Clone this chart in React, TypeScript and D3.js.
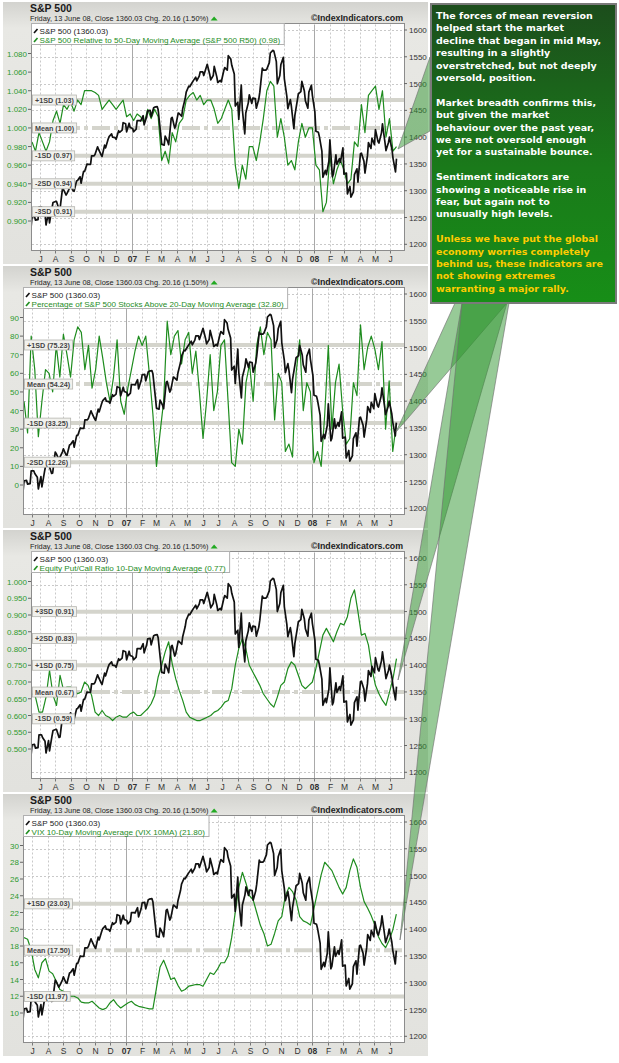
import React, { useEffect, useRef } from 'react';
import * as d3 from 'd3';

// ---------- DATA ----------
// weekly Fridays from 16 Jun 2006 to 13 Jun 2008; S&P also has the Wednesday before each Friday
const START = new Date(2006, 5, 16);
const WEEKS = d3.range(105).map((i) => d3.timeDay.offset(START, 7 * i));
const MIDWEEKS = WEEKS.map((d) => d3.timeDay.offset(d, -2));

const spxFriday = [
  1251, 1245, 1270, 1265, 1236, 1240, 1278, 1280, 1266, 1302,
  1295, 1311, 1299, 1319, 1314, 1336, 1349, 1365, 1368, 1377,
  1364, 1380, 1401, 1400, 1396, 1409, 1427, 1410, 1418, 1410,
  1431, 1430, 1423, 1449, 1438, 1456, 1451, 1387, 1402, 1386,
  1437, 1421, 1444, 1453, 1484, 1494, 1505, 1505, 1522, 1515,
  1536, 1507, 1532, 1502, 1503, 1530, 1552, 1534, 1458, 1433,
  1453, 1445, 1479, 1473, 1454, 1484, 1525, 1527, 1557, 1561,
  1500, 1535, 1509, 1453, 1458, 1440, 1481, 1504, 1468, 1484,
  1478, 1411, 1401, 1325, 1330, 1395, 1331, 1349, 1353, 1331,
  1294, 1288, 1330, 1316, 1370, 1333, 1390, 1398, 1414, 1389,
  1425, 1375, 1400, 1361, 1360,
];

const spxWednesday = [
  1230, 1252, 1246, 1270, 1258, 1259, 1268, 1280, 1265, 1305,
  1292, 1305, 1300, 1318, 1326, 1336, 1350, 1349, 1365, 1382,
  1367, 1385, 1396, 1406, 1399, 1412, 1413, 1425, 1426, 1416,
  1415, 1431, 1440, 1438, 1450, 1455, 1457, 1406, 1385, 1392,
  1435, 1417, 1445, 1439, 1472, 1495, 1502, 1512, 1514, 1522,
  1530, 1517, 1515, 1513, 1506, 1524, 1525, 1546, 1518, 1465,
  1497, 1406, 1464, 1463, 1472, 1471, 1529, 1525, 1539, 1562,
  1541, 1515, 1549, 1476, 1470, 1416, 1469, 1485, 1486, 1454,
  1497, 1447, 1409, 1374, 1338, 1355, 1326, 1367, 1360, 1380,
  1333, 1308, 1298, 1341, 1369, 1355, 1365, 1379, 1386, 1392,
  1408, 1390, 1390, 1377, 1335,
];

const r50 = [
  0.985, 0.975, 0.995, 0.985, 0.975, 0.985, 1.008, 1.018, 1.005, 1.025,
  1.02, 1.028, 1.018, 1.03, 1.025, 1.04, 1.04, 1.04, 1.038, 1.035,
  1.02, 1.025, 1.03, 1.025, 1.02, 1.025, 1.03, 1.012, 1.015, 1.008,
  1.015, 1.012, 1.005, 1.02, 1.01, 1.02, 1.012, 0.965, 0.975, 0.962,
  0.995, 0.985, 1.005, 1.01, 1.03, 1.035, 1.038, 1.03, 1.035, 1.025,
  1.03, 1.03, 1.02, 1.005, 1.01, 1.02, 1.03, 1.02, 0.96, 0.935,
  0.96, 0.945, 0.98, 0.98, 0.965, 0.985, 1.01, 1.04, 1.05, 1.045,
  0.99, 1.01, 0.99, 0.96, 0.965, 0.955, 0.985, 1.005, 0.99, 1.0,
  1.0, 0.96, 0.955, 0.91, 0.92, 0.97, 0.94, 0.955, 0.965, 0.955,
  0.94, 0.945, 0.985, 0.98, 1.025, 0.995, 1.035, 1.04, 1.045, 1.02,
  1.04, 0.99, 1.01, 0.975, 0.98,
];

const pct20 = [
  45, 28, 80, 62, 26, 45, 62, 60, 50, 75,
  58, 81, 70, 58, 78, 85, 82, 62, 75, 52,
  62, 80, 68, 55, 45, 58, 78, 45, 38, 52,
  62, 72, 80, 75, 80, 60, 38, 10, 28, 45,
  88, 70, 80, 83, 65, 78, 82, 60, 72, 50,
  25, 45, 70, 40, 50, 75, 78, 45, 12, 10,
  30, 22, 55, 65, 45, 75, 85, 70, 82, 78,
  35, 60, 55, 18, 22, 15, 60, 78, 40, 55,
  50, 12, 18, 10, 38, 75, 30, 55, 65, 40,
  22, 25, 55, 48, 86, 62, 74, 80, 73, 62,
  77, 30, 56, 18, 32.8,
];

const pcr10 = [
  0.665, 0.655, 0.61, 0.61, 0.655, 0.735, 0.66, 0.63, 0.72, 0.675,
  0.685, 0.685, 0.675, 0.665, 0.67, 0.7, 0.69, 0.66, 0.61, 0.6,
  0.615, 0.6, 0.595, 0.585, 0.595, 0.6, 0.595, 0.595, 0.605, 0.61,
  0.6, 0.6, 0.61, 0.62, 0.635, 0.66, 0.715, 0.75, 0.79, 0.82,
  0.755, 0.71, 0.675, 0.645, 0.61, 0.595, 0.59, 0.585, 0.585, 0.59,
  0.595, 0.6, 0.61, 0.615, 0.625, 0.64, 0.645, 0.68, 0.75, 0.8,
  0.83, 0.8, 0.75, 0.73, 0.71, 0.69, 0.665, 0.65, 0.635, 0.625,
  0.655, 0.69, 0.7, 0.74, 0.76, 0.75, 0.72, 0.69, 0.68, 0.69,
  0.7, 0.74, 0.79, 0.84, 0.86, 0.84, 0.82, 0.85, 0.875, 0.87,
  0.895, 0.95, 0.975, 0.91, 0.84, 0.845, 0.81, 0.74, 0.69, 0.665,
  0.645, 0.63, 0.67, 0.71, 0.77,
];

const vix10 = [
  19.0, 18.8, 17.5, 15.2, 14.2, 16.0, 16.5, 15.0, 14.7, 13.8,
  12.8, 12.6, 12.2, 12.0, 12.0, 11.8, 11.3, 11.2, 11.2, 11.4,
  11.0, 10.6, 10.4, 10.6, 11.2, 11.6, 11.0, 10.6, 10.9, 11.2,
  11.4, 11.0, 10.8, 10.7, 10.6, 10.5, 10.5, 13.0, 15.5, 16.3,
  15.2, 14.0, 14.2, 13.3, 12.6, 12.8, 13.2, 13.3, 13.4, 13.4,
  13.2, 14.0, 14.8, 14.6, 15.2, 16.0, 16.0, 16.8, 19.0, 22.0,
  25.0, 26.8, 25.5, 24.0, 23.5, 22.0, 20.5, 19.5, 18.0, 18.2,
  19.5, 21.0, 21.5, 24.0, 25.0, 24.5, 23.5, 21.5, 21.0, 20.8,
  20.5, 22.5, 24.5, 26.5, 28.0, 27.5, 27.0, 26.0, 25.0, 24.2,
  25.0, 27.0, 28.4, 27.4, 25.0, 23.3, 22.5, 21.6, 20.5, 19.1,
  18.3, 17.8, 18.7, 19.9, 21.8,
];

const SPX_LEGEND = 'S&P 500 (1360.03)';
const INDICATOR_LEGENDS = [
  'S&P 500 Relative to 50-Day Moving Average (S&P 500 R50) (0.98)',
  'Percentage of S&P 500 Stocks Above 20-Day Moving Average (32.80)',
  'Equity Put/Call Ratio 10-Day Moving Average (0.77)',
  'VIX 10-Day Moving Average (VIX 10MA) (21.80)',
];

const r50BandValues = [1.03, 1.0, 0.97, 0.94, 0.91];
const r50BandLabels = ['+1SD (1.03)', 'Mean (1.00)', '-1SD (0.97)', '-2SD (0.94)', '-3SD (0.91)'];
const pctBandValues = [75.23, 54.24, 33.25, 12.26];
const pctBandLabels = ['+1SD (75.23)', 'Mean (54.24)', '-1SD (33.25)', '-2SD (12.26)'];
const pcrBandValues = [0.91, 0.83, 0.75, 0.67, 0.59];
const pcrBandLabels = ['+3SD (0.91)', '+2SD (0.83)', '+1SD (0.75)', 'Mean (0.67)', '-1SD (0.59)'];
const vixBandValues = [23.03, 17.5, 11.97];
const vixBandLabels = ['+1SD (23.03)', 'Mean (17.50)', '-1SD (11.97)'];

const r50Ticks = [0.9, 0.92, 0.94, 0.96, 0.98, 1.0, 1.02, 1.04, 1.06, 1.08];
const pctTicks = [0, 10, 20, 30, 40, 50, 60, 70, 80, 90];
const pcrTicks = [0.5, 0.55, 0.6, 0.65, 0.7, 0.75, 0.8, 0.85, 0.9, 0.95, 1.0];
const vixTicks = [10, 12, 14, 16, 18, 20, 22, 24, 26, 28, 30];
const spxTicks = [1200, 1250, 1300, 1350, 1400, 1450, 1500, 1550, 1600];

const HEADER_TITLE = 'S&P 500';
const HEADER_SUB = 'Friday, 13 June 08, Close 1360.03 Chg. 20.16 (1.50%)';
const HEADER_SITE = '\u00A9IndexIndicators.com';

const COMMENT_WHITE = [
  ['The forces of mean reversion', 'helped start the market', 'decline that began in mid May,', 'resulting in a slightly', 'overstretched, but not deeply', 'oversold, position.'],
  ['Market breadth confirms this,', 'but given the market', 'behaviour over the past year,', 'we are not oversold enough', 'yet for a sustainable bounce.'],
  ['Sentiment indicators are', 'showing a noticeable rise in', 'fear, but again not to', 'unusually high levels.'],
];
const COMMENT_YELLOW = ['Unless we have put the global', 'economy worries completely', 'behind us, these indicators are', 'not showing extremes', 'warranting a major rally.'];

const PANELS = [
  { values: r50, domain: [0.9, 1.08], ticks: r50Ticks, fmt: '.3f', bands: r50BandValues, bandLabels: r50BandLabels, left: 31, legend: INDICATOR_LEGENDS[0] },
  { values: pct20, domain: [0, 90], ticks: pctTicks, fmt: 'd', bands: pctBandValues, bandLabels: pctBandLabels, left: 23, legend: INDICATOR_LEGENDS[1] },
  { values: pcr10, domain: [0.5, 1.0], ticks: pcrTicks, fmt: '.3f', bands: pcrBandValues, bandLabels: pcrBandLabels, left: 31, legend: INDICATOR_LEGENDS[2] },
  { values: vix10, domain: [10, 30], ticks: vixTicks, fmt: 'd', bands: vixBandValues, bandLabels: vixBandLabels, left: 23, legend: INDICATOR_LEGENDS[3] },
];

// callout annotation geometry (box to last reading of each panel)
const CALLOUTS = [
  [[430, 57], [430, 131], [398, 149]],
  [[455, 303], [507, 303], [396, 432]],
  [[462, 303], [507, 303], [398, 680]],
  [[462, 303], [509, 303], [400, 940]],
];

const FONT = 'Liberation Sans, Arial, Helvetica, sans-serif';
const GREEN = '#1e8c1e';

function draw(svgEl: SVGSVGElement) {
  const svg = d3.select(svgEl);
  svg.selectAll('*').remove();
  const defs = svg.append('defs');

  const pg = defs.append('linearGradient').attr('id', 'pbg').attr('x1', 0).attr('y1', 0).attr('x2', 0).attr('y2', 1);
  pg.append('stop').attr('offset', '0%').attr('stop-color', '#d3d3cf');
  pg.append('stop').attr('offset', '10%').attr('stop-color', '#e8e8e4');
  pg.append('stop').attr('offset', '100%').attr('stop-color', '#e2e2de');

  const tg = defs.append('linearGradient').attr('id', 'tbg').attr('x1', 0).attr('y1', 0).attr('x2', 0).attr('y2', 1);
  tg.append('stop').attr('offset', '0%').attr('stop-color', '#1c4d1c');
  tg.append('stop').attr('offset', '55%').attr('stop-color', '#1a7a1a');
  tg.append('stop').attr('offset', '100%').attr('stop-color', '#178e17');

  const spxSeries = d3.sort(
    [
      ...WEEKS.map((d, i) => ({ d, v: spxFriday[i] })),
      ...MIDWEEKS.map((d, i) => ({ d, v: spxWednesday[i] })),
    ],
    (a, b) => +a.d - +b.d,
  );

  const PH = 264;
  const TOP = 23.5;
  const BOT = 250.5;
  const RIGHT = 404;
  const monthTicks = d3.timeMonth.range(new Date(2006, 6, 1), new Date(2008, 5, 2));
  const MONTH_CH = 'JFMAMJJASOND';

  PANELS.forEach((p, k) => {
    const g = svg.append('g').attr('transform', `translate(0,${k * PH})`);
    g.append('rect').attr('x', 3).attr('y', 2).attr('width', 425).attr('height', 262).attr('fill', 'url(#pbg)');

    const x = d3.scaleTime().domain([new Date(2006, 5, 14), new Date(2008, 5, 28)]).range([p.left, RIGHT]);
    const yL = d3.scaleLinear().domain(p.domain).range([221, 53.5]);
    const yR = d3.scaleLinear().domain([1200, 1600]).range([244.3, 30]);

    // header
    g.append('text').attr('x', 30).attr('y', 12).attr('font-family', FONT).attr('font-weight', 'bold').attr('font-size', 10.5).attr('fill', '#1a1a1a').text(HEADER_TITLE);
    const sub = g.append('text').attr('x', 30).attr('y', 21).attr('font-family', FONT).attr('font-size', 7.4).attr('fill', '#222').text(HEADER_SUB);
    const subW = (sub.node() as SVGTextElement).getComputedTextLength();
    const tx = 30 + subW + 2;
    g.append('path').attr('d', `M${tx},20.5 L${tx + 7},20.5 L${tx + 3.5},16.5 Z`).attr('fill', '#22aa22');
    g.append('text').attr('x', 403).attr('y', 21).attr('text-anchor', 'end').attr('font-family', FONT).attr('font-weight', 'bold').attr('font-size', 8.8).attr('fill', '#222').text(HEADER_SITE);

    // frame
    g.append('rect').attr('x', p.left + 0.5).attr('y', TOP).attr('width', RIGHT - p.left).attr('height', BOT - TOP).attr('fill', '#fff').attr('stroke', '#8c8c8c');

    // grid
    spxTicks.forEach((v) => {
      g.append('line').attr('x1', p.left + 1).attr('x2', RIGHT).attr('y1', Math.round(yR(v)) + 0.5).attr('y2', Math.round(yR(v)) + 0.5)
        .attr('stroke', '#c9c9c9').attr('stroke-dasharray', '2,2');
    });
    monthTicks.forEach((d) => {
      const xx = Math.round(x(d)) + 0.5;
      const isYear = d.getMonth() === 0;
      g.append('line').attr('x1', xx).attr('x2', xx).attr('y1', TOP + 1).attr('y2', BOT)
        .attr('stroke', isYear ? '#a9a9a9' : '#c9c9c9').attr('stroke-dasharray', isYear ? null : '2,2');
      g.append('line').attr('x1', xx).attr('x2', xx).attr('y1', BOT).attr('y2', BOT + 3).attr('stroke', '#777');
      g.append('text').attr('x', xx).attr('y', 262).attr('text-anchor', 'middle').attr('font-family', FONT)
        .attr('font-size', 8.5).attr('font-weight', isYear ? 'bold' : 'normal').attr('fill', '#333')
        .text(isYear ? d3.timeFormat('%y')(d) : MONTH_CH[d.getMonth()]);
    });

    // SD bands
    p.bands.forEach((v, j) => {
      const yy = yL(v);
      const isMean = p.bandLabels[j].startsWith('Mean');
      g.append('line').attr('x1', p.left + 1).attr('x2', RIGHT).attr('y1', yy).attr('y2', yy)
        .attr('stroke', '#d4d4cc').attr('stroke-width', 4).attr('stroke-dasharray', isMean ? '18,4,4,4' : null);
    });

    // axes
    p.ticks.forEach((v) => {
      const yy = yL(v);
      g.append('line').attr('x1', p.left - 3).attr('x2', p.left).attr('y1', yy).attr('y2', yy).attr('stroke', '#666');
      g.append('text').attr('x', p.left - 4).attr('y', yy + 3).attr('text-anchor', 'end').attr('font-family', FONT)
        .attr('font-size', 8).attr('fill', '#2e9a2e').text(d3.format(p.fmt)(v));
    });
    spxTicks.forEach((v) => {
      const yy = yR(v);
      g.append('line').attr('x1', RIGHT).attr('x2', RIGHT + 3).attr('y1', yy).attr('y2', yy).attr('stroke', '#666');
      g.append('text').attr('x', RIGHT + 5).attr('y', yy + 3).attr('font-family', FONT).attr('font-size', 8).attr('fill', '#333').text(v);
    });

    // lines (clip rect in the panel's own user space)
    const cid = `clip${k}`;
    g.append('clipPath').attr('id', cid).append('rect').attr('x', p.left + 1).attr('y', TOP + 0.5).attr('width', RIGHT - p.left - 1).attr('height', BOT - TOP - 1);
    const lines = g.append('g').attr('clip-path', `url(#${cid})`);
    const ind = d3.line<number>().x((_, i) => x(WEEKS[i])).y((v) => yL(v));
    const sp = d3.line<{ d: Date; v: number }>().x((o) => x(o.d)).y((o) => yR(o.v));
    lines.append('path').attr('d', ind(p.values)).attr('fill', 'none').attr('stroke', GREEN).attr('stroke-width', 1.2).attr('stroke-linejoin', 'round');
    lines.append('path').attr('d', sp(spxSeries)).attr('fill', 'none').attr('stroke', '#111').attr('stroke-width', 1.7).attr('stroke-linejoin', 'round');

    // band labels
    p.bands.forEach((v, j) => {
      const yy = yL(v);
      const lg = g.append('g');
      const t = lg.append('text').attr('x', p.left + 4).attr('y', yy + 2.6).attr('font-family', FONT).attr('font-weight', 'bold')
        .attr('font-size', 7.2).attr('fill', '#444').text(p.bandLabels[j]);
      const w = (t.node() as SVGTextElement).getComputedTextLength();
      lg.insert('rect', 'text').attr('x', p.left + 1.5).attr('y', yy - 5).attr('width', w + 5).attr('height', 10)
        .attr('fill', '#f1f1ed').attr('stroke', '#b5b5b0').attr('stroke-width', 0.8);
    });

    // legend
    const lg = g.append('g');
    const t1 = lg.append('text').attr('x', p.left + 8.5).attr('y', TOP + 10).attr('font-family', FONT).attr('font-size', 8.1).attr('fill', '#222').text(SPX_LEGEND);
    const t2 = lg.append('text').attr('x', p.left + 8.5).attr('y', TOP + 19).attr('font-family', FONT).attr('font-size', 8.1).attr('fill', GREEN).text(p.legend);
    const lw = Math.max((t1.node() as SVGTextElement).getComputedTextLength(), (t2.node() as SVGTextElement).getComputedTextLength());
    lg.insert('rect', 'text').attr('x', p.left + 0.5).attr('y', TOP).attr('width', lw + 12).attr('height', 21).attr('fill', '#fff').attr('stroke', '#b0b0b0');
    lg.append('line').attr('x1', p.left + 3).attr('y1', TOP + 9.5).attr('x2', p.left + 6.5).attr('y2', TOP + 5.5).attr('stroke', '#111').attr('stroke-width', 1.6);
    lg.append('line').attr('x1', p.left + 3).attr('y1', TOP + 18.5).attr('x2', p.left + 6.5).attr('y2', TOP + 14.5).attr('stroke', GREEN).attr('stroke-width', 1.6);
  });

  // callouts
  CALLOUTS.forEach((pts) => {
    svg.append('polygon').attr('points', pts.map((q) => q.join(',')).join(' '))
      .attr('fill', '#2f952f').attr('fill-opacity', 0.5).attr('stroke', '#6f6f6f').attr('stroke-opacity', 0.8).attr('stroke-width', 0.8);
  });

  // comment box
  svg.append('rect').attr('x', 431).attr('y', 4).attr('width', 185).attr('height', 299).attr('fill', 'url(#tbg)').attr('stroke', '#7a7a7a').attr('stroke-width', 2);
  const LH = 12.4;
  let yy = 19;
  const addLine = (line: string, color: string) => {
    svg.append('text').attr('x', 436).attr('y', yy).attr('font-family', 'DejaVu Sans, Verdana, sans-serif').attr('font-weight', 'bold')
      .attr('font-size', 9.5).attr('fill', color).text(line);
    yy += LH;
  };
  COMMENT_WHITE.forEach((para) => {
    para.forEach((line) => addLine(line, '#fff'));
    yy += LH;
  });
  COMMENT_YELLOW.forEach((line) => addLine(line, '#ffcc00'));
}

export default function App() {
  const ref = useRef<SVGSVGElement>(null);
  useEffect(() => {
    if (ref.current) draw(ref.current);
  }, []);
  return (
    <svg ref={ref} width={619} height={1063} style={{ position: 'absolute', left: 0, top: 0, background: '#fff' }} />
  );
}
